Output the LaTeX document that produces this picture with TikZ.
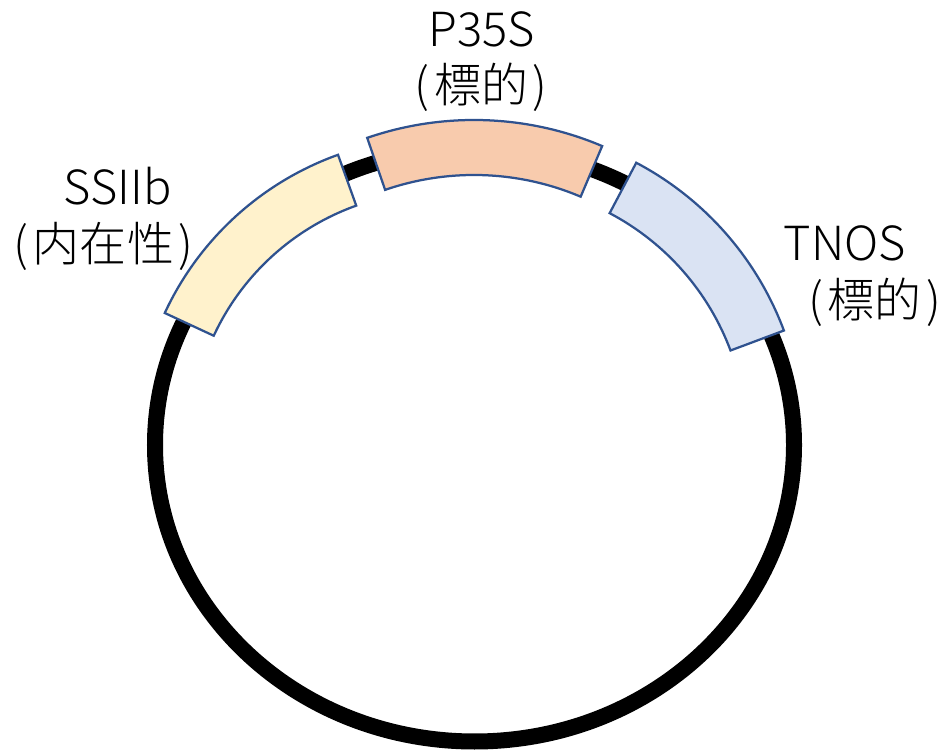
\documentclass[tikz,border=0pt]{standalone}
\usepackage{fontspec}
\setmainfont{Noto Sans CJK JP}[UprightFont=* Light]
\usetikzlibrary{calc}

\definecolor{geneline}{HTML}{2F528F}
\definecolor{ssiibfill}{HTML}{FFF2CC}
\definecolor{p35sfill}{HTML}{F8CBAD}
\definecolor{tnosfill}{HTML}{DAE3F3}

\tikzset{
	ring/.style={line width=16bp, black},
	gene/.style={draw=geneline, line width=2.25bp, line join=miter},
	tag/.style={font=\fontsize{47bp}{56bp}\selectfont, inner sep=0pt},
}

\begin{document}
\begin{tikzpicture}[x=1bp,y=1bp]
	\useasboundingbox (0,0) rectangle (946,751);
	\coordinate (o) at (474.5,306);
	\draw[ring] (o) ellipse [x radius=319.5bp, y radius=296.5bp];

	\coordinate (ssiibc) at (440.5,310);
	\draw[gene, fill=ssiibfill] ($(ssiibc)+(109.7:304)$) arc [start angle=109.7, end angle=155.1, radius=304bp]
		-- ($(ssiibc)+(155.1:250)$) arc [start angle=155.1, end angle=109.7, radius=250bp] -- cycle;
	\coordinate (p35sc) at (474,303);
	\draw[gene, fill=p35sfill] ($(p35sc)+(67:328)$) arc [start angle=67, end angle=109, radius=328bp]
		-- ($(p35sc)+(109:273)$) arc [start angle=109, end angle=67, radius=273bp] -- cycle;
	\coordinate (tnosc) at (489.8,310.5);
	\draw[gene, fill=tnosfill] ($(tnosc)+(20.5:314)$) arc [start angle=20.5, end angle=62.2, radius=314bp]
		-- ($(tnosc)+(62.2:257)$) arc [start angle=62.2, end angle=20.5, radius=257bp] -- cycle;

	\node[tag] (p35s) at (482,722) {P35S};
	\node[tag] (p35snote) at (481,664) {(\kern.1em 標的\kern.1em)};
	\node[tag] (ssiib) at (117.5,564.5) {SSIIb};
	\node[tag] (ssiibnote) at (103.5,504.5) {(\kern.1em 内在性\kern.1em)};
	\node[tag] (tnos) at (845,507.5) {TNOS};
	\node[tag] (tnosnote) at (874.5,448.5) {(\kern.1em 標的\kern.1em)};
\end{tikzpicture}
\end{document}
